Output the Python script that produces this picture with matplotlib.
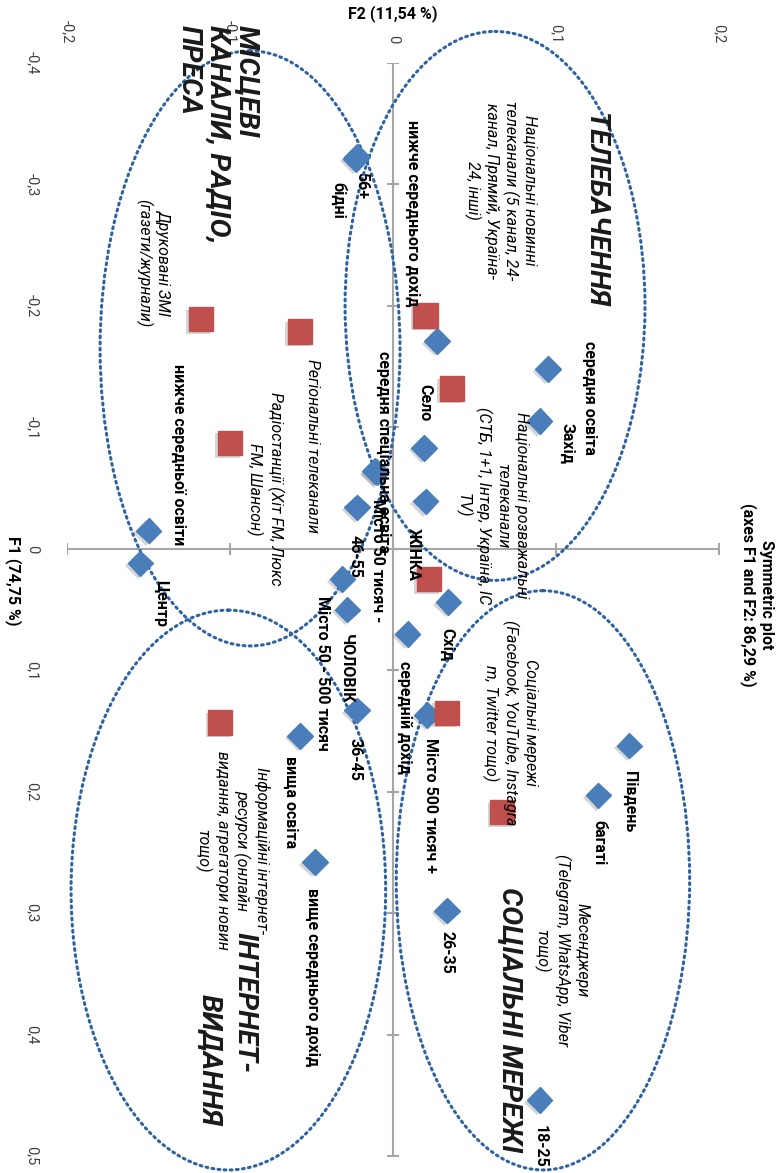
import matplotlib
matplotlib.use("Agg")
import matplotlib.pyplot as plt
import matplotlib.patheffects as pe
from matplotlib.patches import Ellipse

plt.rcParams["font.family"] = ["Roboto", "DejaVu Sans"]

# rows (blue): F1, F2 coordinates
row_labels = ["56+", "бідні", "нижче середнього дохід", "середня освіта", "Захід", "Село",
              "середня спеціальна освіта", "Місто 50 тисяч -", "ЖІНКА", "46-55", "Схід",
              "Місто 50 - 500 тисяч", "ЧОЛОВІК", "середній дохід", "Місто 500 тисяч +", "36-45",
              "вища освіта", "вище середнього дохід", "26-35", "Південь", "багаті", "18-25",
              "нижче середньої освіти", "Центр"]
row_f1 = [-0.323, -0.321, -0.171, -0.148, -0.105, -0.083, -0.064, -0.063, -0.039, -0.034, 0.044,
          0.025, 0.050, 0.070, 0.137, 0.133, 0.154, 0.258, 0.298, 0.162, 0.203, 0.454, -0.015, 0.012]
row_f2 = [-0.022, -0.023, 0.027, 0.095, 0.090, 0.019, -0.011, -0.010, 0.020, -0.022, 0.034,
          -0.031, -0.028, 0.009, 0.021, -0.022, -0.057, -0.048, 0.033, 0.145, 0.126, 0.090, -0.150, -0.155]

# columns (red): media types
col_labels = ["Національні новинні\nтелеканали (5 канал, 24-\nканал, Прямий, Україна-\n24, інші)",
              "Національні розважальні\nтелеканали\n(СТБ, 1+1, Інтер, Україна, ІС\nTV)",
              "Регіональні телеканали",
              "Радіостанції (Хіт FM, Люкс\nFM, Шансон)",
              "Друковані ЗМІ\n(газети/журнали)",
              "",
              "Соціальні мережі\n(Facebook, YouTube, Instagra\nm, Twitter тощо)",
              "Месенджери\n(Telegram, WhatsApp, Viber\nтощо)",
              "Інформаційні інтернет-\nресурси (онлайн\nвидання, агрегатори новин\nтощо)"]
col_f1 = [-0.192, -0.132, -0.179, -0.087, -0.189, 0.025, 0.135, 0.217, 0.143]
col_f2 = [0.020, 0.036, -0.057, -0.100, -0.118, 0.022, 0.033, 0.067, -0.106]

f1_ticks = [-0.4, -0.3, -0.2, -0.1, 0, 0.1, 0.2, 0.3, 0.4, 0.5]
f2_ticks = [-0.2, -0.1, 0, 0.1, 0.2]

# groups: (centre F2, centre F1, width F2, height F1)
groups = [(0.0626, -0.200, 0.184, 0.452),
          (-0.0877, -0.165, 0.184, 0.490),
          (0.0920, 0.273, 0.180, 0.477),
          (-0.101, 0.281, 0.193, 0.461)]

# label offsets in pixels (dx right, dy down, vertical anchor)
row_pos = {"56+": (5, 15, "top"), "бідні": (-17, 23, "top"),
           "нижче середнього дохід": (-24, -35, "bottom"), "середня освіта": (42, -28, "top"),
           "Захід": (27, 2, "top"), "Село": (1, -27, "bottom"),
           "середня спеціальна освіта": (8, -120, "top"), "Місто 50 тисяч -": (1, 27, "top"),
           "ЖІНКА": (-12, 27, "top"), "46-55": (-2, 28, "top"),
           "Місто 50 - 500 тисяч": (-20, 17, "top"), "ЧОЛОВІК": (-1, 24, "top"),
           "Схід": (-1, 26, "top"), "середній дохід": (-3, 27, "top"),
           "Місто 500 тисяч +": (3, 23, "top"), "36-45": (-2, 28, "top"),
           "вища освіта": (-10, 20, "top"), "вище середнього дохід": (-2, 26, "top"),
           "26-35": (0, 20, "top"), "Південь": (0, 25, "top"), "багаті": (0, 25, "top"),
           "18-25": (0, 25, "top"), "нижче середньої освіти": (30, 15, "bottom"),
           "Центр": (20, 17, "top")}
col_pos = [(75, -125), (40, 117), (12, 115), (35, 46), (-48, -56), (0, 0), (63, 10), (59, 138), (12, 128)]

W, H = 784, 1173
fig = plt.figure(figsize=(W / 100, H / 100), dpi=100)
ax = fig.add_axes([67 / W, 1 - 1156 / H, (719 - 67) / W, (1156 - 63) / H])
ax.set_xlim(-0.2, 0.2)
ax.set_ylim(0.5, -0.4)
ax.axis("off")

axis_col = "#A6A6A6"
ax.axhline(0, color=axis_col, lw=1.5, zorder=1)
ax.axvline(0, color=axis_col, lw=1.5, zorder=1)
ax.plot([0] * len(f1_ticks), f1_ticks, ls="none", marker="_", ms=9, mew=1.5, color=axis_col, zorder=1)
ax.plot(f2_ticks, [0] * len(f2_ticks), ls="none", marker="|", ms=9, mew=1.5, color=axis_col, zorder=1)

for cx, cy, w, h in groups:
    ax.add_patch(Ellipse((cx, cy), w, h, fill=False, ec="#2F62A0", lw=2.2,
                         ls=(0, (0.6, 1.4)), capstyle="round", clip_on=False, zorder=2))

shadow = [pe.SimplePatchShadow(offset=(-1.8, -1.8), shadow_rgbFace="#777777", alpha=0.3), pe.Normal()]
ax.plot(row_f2, row_f1, ls="none", marker="D", ms=13, color="#4A7EBB", mec="#4A7EBB",
        path_effects=shadow, zorder=4)
ax.plot(col_f2, col_f1, ls="none", marker="s", ms=17.5, color="#C0504D", mec="#C0504D",
        path_effects=shadow, zorder=4)

for lab, x, y in zip(row_labels, row_f2, row_f1):
    dx, dy, va = row_pos[lab]
    ax.annotate(lab, (x, y), xytext=(dx, -dy), textcoords="offset pixels", rotation=270,
                ha="center", va=va, fontsize=11.5, fontweight="bold", zorder=5, annotation_clip=False)

for lab, x, y, (dx, dy) in zip(col_labels, col_f2, col_f1, col_pos):
    ax.annotate(lab, (x, y), xytext=(dx, -dy), textcoords="offset pixels", rotation=270,
                ha="center", va="center", multialignment="center", fontsize=11.5,
                style="italic", linespacing=1.25, zorder=5, annotation_clip=False)

# tick labels
def fmt(v):
    return ("%g" % v).replace(".", ",")

for v in f1_ticks:
    ax.text(-35 / 652, v, fmt(v), transform=ax.get_yaxis_transform(), rotation=270,
            ha="center", va="center", fontsize=10.5, color="#404040")
for v in f2_ticks:
    ax.text(v, 1 + 20 / 1093, fmt(v), transform=ax.get_xaxis_transform(), rotation=270,
            ha="center", va="bottom", fontsize=10.5, color="#404040")

def px(x, y):
    return x / W, 1 - y / H

big = dict(rotation=270, fontsize=20.5, fontweight="bold", style="italic", color="#1a1a1a")
fig.text(*px(595, 210), "ТЕЛЕБАЧЕННЯ", ha="center", va="center", **big)
fig.text(*px(218, 25), "МІСЦЕВІ\nКАНАЛИ, РАДІО,\nПРЕСА", ha="center", va="top",
         multialignment="left", linespacing=1.1, **big)
fig.text(*px(510, 1020), "СОЦІАЛЬНІ МЕРЕЖІ", ha="center", va="center", **big)
fig.text(*px(245, 1003), "ІНТЕРНЕТ-", ha="center", va="center", **big)
fig.text(*px(210, 1060), "ВИДАННЯ", ha="center", va="center", **big)

fig.text(*px(757, 595), "Symmetric plot\n(axes F1 and F2: 86,29 %)", rotation=270, ha="center",
         va="center", multialignment="center", fontsize=11.5, fontweight="bold")
fig.text(*px(13, 581), "F1 (74,75 %)", rotation=270, ha="center", va="center",
         fontsize=11.5, fontweight="bold")
fig.text(*px(393, 14), "F2 (11,54 %)", ha="center", va="center", fontsize=11.5, fontweight="bold")

fig.savefig("out.png", dpi=100)
